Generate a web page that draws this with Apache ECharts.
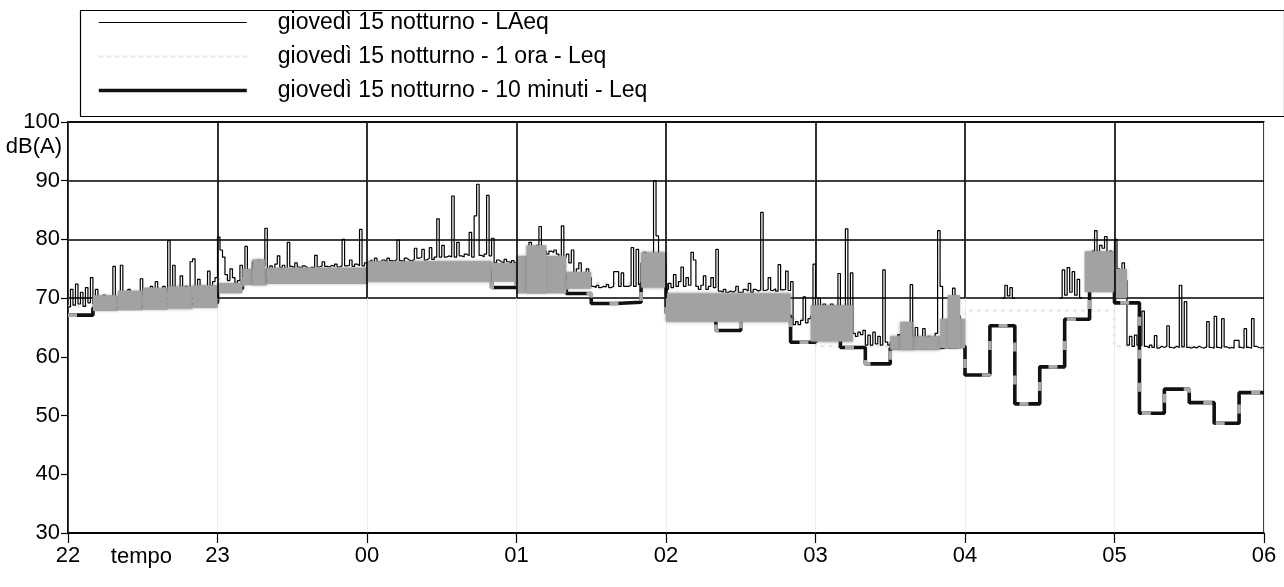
<!DOCTYPE html>
<html><head><meta charset="utf-8">
<script src="https://cdn.jsdelivr.net/npm/echarts@6/dist/echarts.min.js"></script>
<style>html,body{margin:0;padding:0;background:#fff}#c{width:1284px;height:587px}</style>
</head><body><div id="c"></div>
<script>
// ---- tick labels (hours, from 22:00 to 06:00) ----
const hourLabels = ['22','23','00','01','02','03','04','05','06'];

// ---- LAeq, one value per minute (48 rows of 10 minutes), null = not visible ----
const laeqRows = [
  [68.5,71.5,68.8,72.4,69.0,71.0,68.6,71.8,69.2,73.5],
  [69.0,71.5,69.0,69.5,70.5,69.0,69.0,70.0,75.4,69.5],
  [70.0,75.6,70.0,70.5,71.5,70.0,70.0,71.0,70.0,73.3],
  [70.5,71.0,70.5,72.0,71.0,72.8,71.0,70.5,72.0,71.0],
  [79.8,71.0,75.6,71.0,71.5,73.8,71.0,72.0,71.5,76.2],
  [76.7,71.5,73.2,71.0,72.0,71.5,74.6,72.0,72.8,73.5],
  [80.4,78.2,77.0,74.0,73.0,75.0,73.5,72.5,73.0,75.6],
  [73.5,78.8,74.0,74.5,76.2,74.0,76.5,75.0,75.5,81.9],
  [75.0,75.5,75.0,75.8,77.2,75.2,75.6,75.0,79.5,75.4],
  [75.2,76.0,75.3,75.0,75.5,75.2,75.0,75.3,75.1,77.3],
  [75.3,75.5,76.2,75.4,75.3,75.6,75.4,75.8,75.3,75.5],
  [80.0,75.5,75.6,76.5,75.4,75.8,75.5,81.7,75.5,76.0],
  [76.2,76.5,76.0,76.8,76.2,76.0,76.5,76.2,76.8,76.4],
  [76.3,76.6,79.9,76.4,76.2,76.8,76.5,76.3,76.6,78.5],
  [76.8,77.0,78.3,76.5,76.8,78.6,76.6,77.0,83.5,77.0],
  [79.0,77.0,77.2,77.0,87.4,77.0,79.5,77.2,77.0,77.5],
  [77.2,81.2,77.0,84.0,89.4,77.3,77.0,77.5,87.5,77.2],
  [80.2,76.0,76.5,76.2,76.0,76.6,76.2,76.0,76.4,76.0],
  [76.0,76.5,77.0,76.8,77.0,79.5,78.0,78.5,79.0,82.2],
  [78.5,78.0,77.5,78.0,77.8,78.2,77.5,77.0,82.3,77.0],
  [77.5,76.0,78.2,74.0,75.0,76.0,74.0,73.5,75.0,73.5],
  [72.0,71.8,72.2,71.8,72.0,71.9,72.3,71.8,72.0,74.5],
  [74.5,72.0,74.3,72.0,72.0,72.2,78.6,72.0,78.3,72.3],
  [76.0,77.8,76.5,77.0,77.5,90.0,80.6,77.0,76.5,76.0],
  [71.5,72.5,71.8,74.0,72.0,72.8,75.3,72.0,73.5,72.2],
  [77.8,76.5,72.0,71.5,72.2,73.8,71.5,72.0,73.5,71.8],
  [78.3,71.2,71.0,71.5,71.0,71.2,71.0,71.3,72.0,71.0],
  [71.0,71.5,71.2,72.5,71.0,71.5,71.2,71.4,84.6,71.3],
  [71.5,73.5,71.3,71.6,71.2,75.7,71.4,71.5,74.6,71.3],
  [72.8,65.5,66.0,65.5,66.2,70.2,65.8,66.5,67.0,75.8],
  [68.0,70.0,68.5,69.0,68.0,68.5,69.0,68.5,68.0,74.2],
  [66.0,66.5,81.8,65.5,74.3,64.0,63.5,64.2,63.8,64.5],
  [62.0,63.7,62.0,64.2,62.2,63.5,62.0,74.8,62.5,62.0],
  [62.5,63.0,62.5,63.8,62.8,64.0,65.0,64.5,72.3,63.0],
  [65.0,63.0,63.2,64.8,63.0,63.5,63.0,63.2,64.0,81.5],
  [72.0,64.0,65.0,66.0,68.0,71.7,69.0,67.0,66.0,65.0],
  [null,null,null,null,null,null,null,null,null,null],
  [null,null,null,null,null,70.0,72.2,70.4,71.8,70.0],
  [null,null,null,null,null,null,null,null,null,null],
  [null,null,null,null,null,null,null,null,70.0,74.8],
  [70.5,75.2,71.0,74.5,70.5,73.2,70.0,null,null,74.0],
  [76.0,78.0,81.5,77.0,79.0,78.5,80.5,77.0,78.0,76.0],
  [80.0,75.0,74.5,76.0,73.0,62.0,63.5,61.8,63.7,62.0],
  [62.0,67.8,61.8,61.5,62.0,61.6,63.6,61.5,61.8,61.6],
  [61.8,65.3,61.6,61.5,61.8,61.6,72.2,61.7,69.4,61.6],
  [61.5,61.7,61.5,61.8,61.6,61.5,61.7,66.0,61.6,61.5],
  [66.9,61.6,61.5,66.5,61.7,61.5,61.6,61.5,62.8,62.8],
  [61.6,61.5,64.8,61.6,61.5,66.5,61.8,61.6,61.5,61.7]
];

// ---- dense LAeq band (grey mass), minutes from 22:00 and dB range ----
const bandFrom = [10, 20, 30, 40, 50, 60, 70, 74, 80, 120, 170, 180, 184, 200, 230, 240, 298, 330, 334, 350, 353, 408, 420];
const bandTo   = [20, 30, 40, 50, 60, 70, 80, 79, 120, 170, 180, 200, 192, 210, 240, 290, 315, 350, 339, 360, 358, 420, 425];
const bandLow  = [67.8, 67.9, 68.0, 68.2, 68.3, 70.8, 72.2, 72.2, 72.4, 72.8, 72.8, 70.8, 70.8, 71.6, 71.8, 66.0, 62.6, 61.2, 61.2, 61.5, 61.5, 71.0, 70.0];
const bandHigh = [70.5, 71.3, 71.8, 72.0, 72.2, 72.6, 75.0, 76.6, 75.2, 76.3, 76.0, 77.2, 79.0, 74.5, 77.8, 70.8, 68.8, 63.5, 66.0, 66.5, 70.5, 78.0, 75.0];

// ---- 10-minute Leq (48 steps) ----
const leq10min = [
  67.1, 68.3, 68.6, 68.8, 69.0, 69.2,
  71.6, 73.0, 73.2, 73.3, 73.4, 73.5,
  73.8, 74.0, 74.2, 74.5, 74.4, 71.8,
  73.8, 74.0, 70.8, 69.1, 69.3, 72.5,
  67.5, 67.3, 64.5, 67.2, 67.0, 62.5,
  63.8, 61.6, 58.8, 61.5, 61.6, 61.8,
  56.9, 65.3, 52.0, 58.3, 66.4, 74.5,
  69.2, 50.4, 54.5, 52.2, 48.7, 53.9
];

// ---- 1-hour Leq (8 steps) ----
const leq1h = [68.6, 73.2, 74.0, 72.6, 66.5, 61.8, 67.9, 61.8];

// ---- series names ----
const nameLAeq = 'giovedì 15 notturno - LAeq';
const name1h = 'giovedì 15 notturno - 1 ora - Leq';
const name10 = 'giovedì 15 notturno - 10 minuti - Leq';

// ---- build data tables ----
const laeqMinute = [].concat(...laeqRows);
const laeqData = laeqMinute.map((v, i) => [i / 60, v]);
laeqData.push([8, laeqMinute[laeqMinute.length - 1]]);
const leq10Data = leq10min.map((v, i) => [i / 6, v]);
leq10Data.push([8, leq10min[leq10min.length - 1]]);
const leq1hData = leq1h.map((v, i) => [i, v]);
leq1hData.push([8, leq1h[leq1h.length - 1]]);
const bandData = bandFrom.map((f, i) => [f / 60, bandTo[i] / 60, bandLow[i], bandHigh[i]]);
const hourGrid = hourLabels.slice(1, -1).map((_, i) => [{ coord: [i + 1, 70] }, { coord: [i + 1, 100] }]);

const FONT = '"Liberation Sans", Arial, sans-serif';
const chart = echarts.init(document.getElementById('c'), null, { renderer: 'canvas' });
chart.setOption({
  animation: false,
  backgroundColor: '#fff',
  textStyle: { fontFamily: FONT, color: '#000' },
  graphic: [{
    type: 'rect', left: 78, top: 8, z: 0,
    shape: { width: 1204, height: 106 },
    style: { fill: 'none', stroke: '#000', lineWidth: 1.2 }
  }],
  legend: {
    data: [nameLAeq, name1h, name10],
    orient: 'vertical', left: 92, top: 6,
    itemWidth: 148, itemHeight: 12, itemGap: 11,
    itemStyle: { opacity: 0 },
    lineStyle: { width: 'inherit' },
    textStyle: { fontFamily: FONT, fontSize: 23, color: '#000', padding: [0, 0, 0, 26] },
    selectedMode: false
  },
  grid: { left: 68, right: 20, top: 122, bottom: 54, show: true, borderColor: '#000', borderWidth: 1.5, backgroundColor: 'transparent' },
  xAxis: {
    type: 'value', min: 0, max: 8, interval: 1,
    axisLine: { show: true, lineStyle: { color: '#000', width: 1.5 } },
    axisTick: { show: true, length: 10, lineStyle: { color: '#000', width: 1.2 } },
    axisLabel: { fontFamily: FONT, fontSize: 22, color: '#000', margin: 12, formatter: v => hourLabels[v] },
    splitLine: { show: true, lineStyle: { color: '#ececec', width: 1 } },
    name: 'tempo', nameLocation: 'start', nameGap: -104,
    nameTextStyle: { fontFamily: FONT, fontSize: 22, color: '#000', align: 'right', verticalAlign: 'top', padding: [13, 0, 0, 0] }
  },
  yAxis: {
    type: 'value', min: 30, max: 100, interval: 10,
    axisLine: { show: true, lineStyle: { color: '#000', width: 1.5 } },
    axisTick: { show: true, length: 7, lineStyle: { color: '#000', width: 1.2 } },
    axisLabel: { fontFamily: FONT, fontSize: 22, color: '#000', margin: 8 },
    splitLine: { show: true, lineStyle: { color: ['#000', 'rgba(0,0,0,0)', 'rgba(0,0,0,0)', 'rgba(0,0,0,0)', '#000', '#000', '#000', '#000'], width: 1.6 } },
    name: 'dB(A)', nameLocation: 'end', nameGap: -14,
    nameTextStyle: { fontFamily: FONT, fontSize: 22, color: '#000', align: 'right', verticalAlign: 'top', padding: [0, 6, 0, 0] }
  },
  series: [
    {
      name: name1h, type: 'line', step: 'end', data: leq1hData, z: 1,
      symbol: 'none', silent: true,
      lineStyle: { color: '#e4e4e4', width: 2, type: [4, 4] },
      itemStyle: { color: '#e4e4e4' },
      markLine: {
        silent: true, symbol: 'none', label: { show: false },
        lineStyle: { color: '#000', width: 1.6, type: 'solid' },
        data: hourGrid
      }
    },
    {
      name: nameLAeq, type: 'line', step: 'end', data: laeqData, z: 2,
      symbol: 'none', connectNulls: false, silent: true,
      lineStyle: { color: '#000', width: 1.2 },
      itemStyle: { color: '#000' }
    },
    {
      name: name10, type: 'line', step: 'end', data: leq10Data, z: 2,
      symbol: 'none', silent: true,
      lineStyle: { color: '#111', width: 3.6 },
      itemStyle: { color: '#111' }
    },
    {
      name: name10, type: 'line', step: 'end', data: leq10Data, z: 2,
      symbol: 'none', silent: true,
      lineStyle: { color: '#a9a9a9', width: 3.6, type: [9, 24] },
      itemStyle: { color: '#111' }
    },
    {
      name: 'LAeq (campioni densi)', type: 'custom', data: bandData, z: 3, silent: true,
      encode: { x: [0, 1], y: [2, 3] },
      renderItem: (params, api) => {
        const a = api.coord([api.value(0), api.value(3)]);
        const b = api.coord([api.value(1), api.value(2)]);
        return {
          type: 'rect',
          shape: { x: a[0], y: a[1], width: b[0] - a[0], height: b[1] - a[1] },
          style: { fill: '#a2a2a2', shadowBlur: 3, shadowColor: 'rgba(110,110,110,0.7)' }
        };
      }
    }
  ]
});
</script></body></html>
